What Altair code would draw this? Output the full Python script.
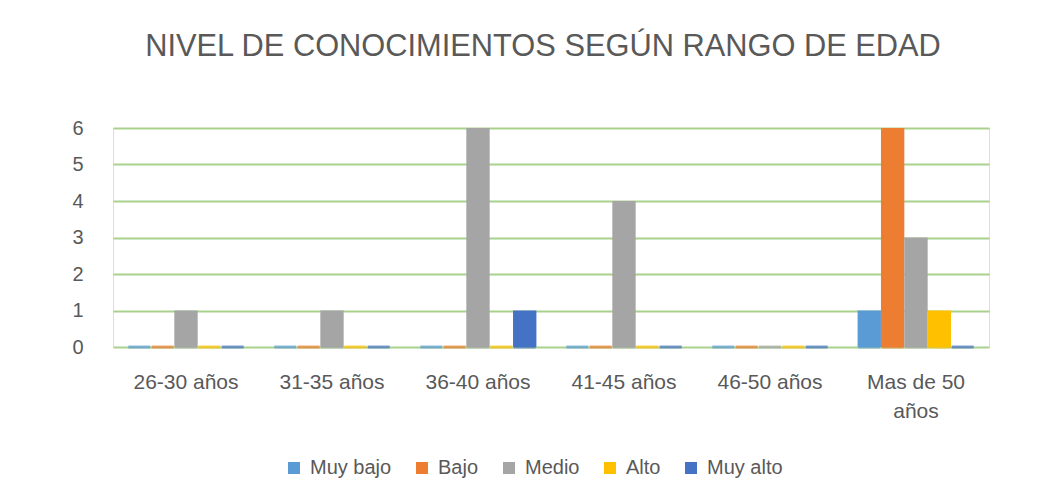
import altair as alt
import pandas as pd

categories = ["26-30 años", "31-35 años", "36-40 años", "41-45 años", "46-50 años", "Mas de 50 años"]
series = ["Muy bajo", "Bajo", "Medio", "Alto", "Muy alto"]
muy_bajo = [0, 0, 0, 0, 0, 1]
bajo = [0, 0, 0, 0, 0, 6]
medio = [1, 1, 6, 4, 0, 3]
alto = [0, 0, 0, 0, 0, 1]
muy_alto = [0, 0, 1, 0, 0, 0]
y_ticks = [0, 1, 2, 3, 4, 5, 6]
colors = ["#5B9BD5", "#ED7D31", "#A5A5A5", "#FFC000", "#4472C4"]

rows = []
for s, vals in zip(series, [muy_bajo, bajo, medio, alto, muy_alto]):
    for c, v in zip(categories, vals):
        rows.append({"Rango": c, "Nivel": s, "Valor": v})
df = pd.DataFrame(rows)

FONT = "Liberation Sans"
TXT = "#595959"

x = alt.X("Rango:N", sort=categories, title=None,
          scale=alt.Scale(paddingInner=0.2, paddingOuter=0.1),
          axis=alt.Axis(labelAngle=0, domain=False, ticks=False, labelFont=FONT,
                        labelFontSize=21, labelColor=TXT, labelPadding=24,
                        labelExpr="datum.label == 'Mas de 50 años' ? ['Mas de 50', 'años'] : datum.label",
                        labelLineHeight=29))
xo = alt.XOffset("Nivel:N", sort=series, scale=alt.Scale(paddingInner=0))
col = alt.Color("Nivel:N", sort=series, scale=alt.Scale(domain=series, range=colors),
                legend=alt.Legend(title=None, orient="none", direction="horizontal",
                                  legendX=171, legendY=330, symbolType="square",
                                  symbolSize=144, symbolStrokeWidth=0, labelFont=FONT,
                                  labelFontSize=20, labelColor=TXT, columnPadding=20,
                                  labelOffset=6))
yscale = alt.Scale(domain=[0, 6], nice=False)


def yenc(field):
    return alt.Y(field, title=None, scale=yscale,
                 axis=alt.Axis(values=y_ticks, domain=False, ticks=False,
                               labelFont=FONT, labelFontSize=20, labelColor=TXT,
                               labelPadding=30, gridColor="#A9D18E", gridWidth=2))


bars = alt.Chart(df).mark_bar().encode(x=x, xOffset=xo, y=yenc("Valor:Q"), color=col)
slabs = alt.Chart(df).mark_tick(thickness=3, size=22, orient="horizontal").encode(
    x=x, xOffset=xo, y=yenc("zero:Q"),
    color=alt.Color("Nivel:N", sort=series, scale=alt.Scale(domain=series, range=colors), legend=None)
).transform_calculate(zero="0")

chart = alt.layer(bars, slabs).properties(
    width=876, height=219,
    title=alt.TitleParams("NIVEL DE CONOCIMIENTOS SEGÚN RANGO DE EDAD", font=FONT, fontSize=30.8,
                          fontWeight="normal", color=TXT, anchor="middle", frame="group",
                          offset=31, baseline="alphabetic", dx=-8),
    autosize=alt.AutoSizeParams(type="none"),
    padding={"left": 105, "top": 120, "right": 63, "bottom": 147},
).configure_view(strokeWidth=0).configure(background="white")

chart.save("out.html", embed_options={"renderer": "svg", "actions": False})
